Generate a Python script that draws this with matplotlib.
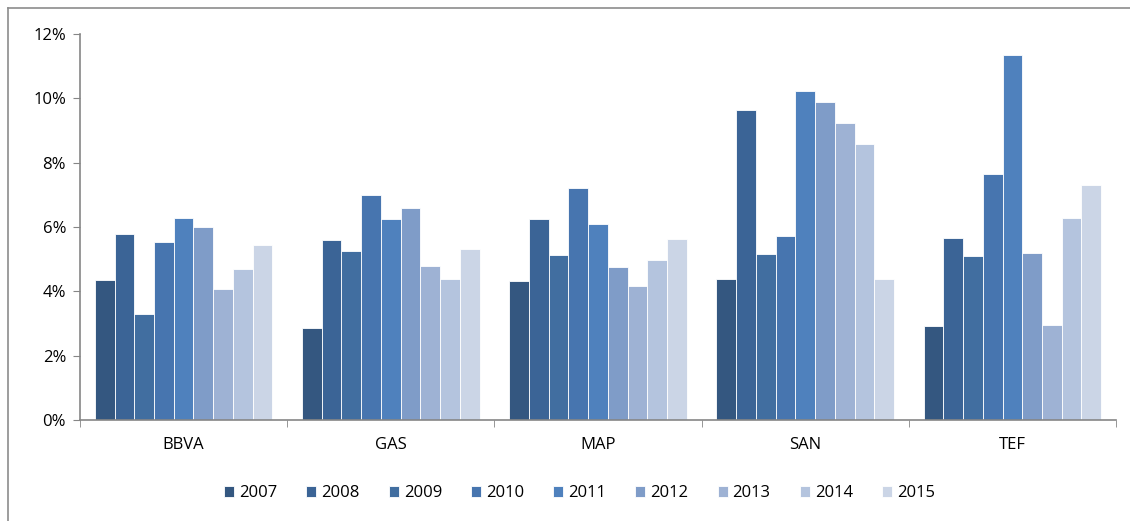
import numpy as np
import matplotlib.pyplot as plt
from matplotlib.lines import Line2D
from matplotlib.ticker import FuncFormatter

# Categories and yearly series (values in %)
companies = ["BBVA", "GAS", "MAP", "SAN", "TEF"]
years = ["2007", "2008", "2009", "2010", "2011", "2012", "2013", "2014", "2015"]

v2007 = [4.35, 2.85, 4.32, 4.38, 2.91]
v2008 = [5.77, 5.60, 6.25, 9.63, 5.66]
v2009 = [3.29, 5.25, 5.12, 5.17, 5.11]
v2010 = [5.52, 7.00, 7.22, 5.71, 7.65]
v2011 = [6.27, 6.25, 6.10, 10.22, 11.35]
v2012 = [6.00, 6.58, 4.75, 9.88, 5.19]
v2013 = [4.08, 4.80, 4.18, 9.22, 2.94]
v2014 = [4.69, 4.37, 4.97, 8.57, 6.27]
v2015 = [5.45, 5.32, 5.63, 4.37, 7.30]
series = [v2007, v2008, v2009, v2010, v2011, v2012, v2013, v2014, v2015]

colors = ["#345780", "#3B6496", "#416EA0", "#4775AF", "#4F81BD",
          "#7F9CC8", "#9EB2D4", "#B4C4DE", "#CBD5E6"]

plt.rcParams["font.family"] = ["Open Sans", "DejaVu Sans"]

fig = plt.figure(figsize=(11.3, 5.21), dpi=100)
ax = fig.add_axes([0.0708, 0.1939, 0.9168, 0.7408])

n = len(years)
bar_w = 1.0 / (n + 1.5)
x = np.arange(len(companies))
for i, (yr, vals) in enumerate(zip(years, series)):
    offs = (i - (n - 1) / 2) * bar_w
    ax.bar(x + offs, vals, width=bar_w, color=colors[i], edgecolor="white",
           linewidth=0.6, label=yr)

ax.set_xlim(-0.5, len(companies) - 0.5)
ax.set_ylim(0, 12)
ax.set_yticks(range(0, 13, 2))
ax.yaxis.set_major_formatter(FuncFormatter(lambda v, p: f"{v:.0f}%"))
ax.set_xticks(x)
ax.set_xticklabels(companies)
ax.set_xticks(np.arange(-0.5, len(companies)), minor=True)
ax.tick_params(axis="x", which="major", length=0, pad=12, labelsize=12)
ax.tick_params(axis="x", which="minor", length=5, color="#868686", direction="out")
ax.tick_params(axis="y", length=5, color="#868686", labelsize=12, pad=5)

for s in ["top", "right"]:
    ax.spines[s].set_visible(False)
for s in ["left", "bottom"]:
    ax.spines[s].set_color("#868686")
    ax.spines[s].set_linewidth(1.2)

ax.legend(loc="center", bbox_to_anchor=(0.482, -0.19), ncol=9, frameon=False,
          fontsize=12, handlelength=0.6, handleheight=0.6, handletextpad=0.3,
          columnspacing=1.75)

# outer chart frame
fig.add_artist(Line2D([8 / 1130, 8 / 1130], [0, 1 - 8 / 521], transform=fig.transFigure,
                      color="#8c8c8c", linewidth=1.2))
fig.add_artist(Line2D([8 / 1130, 1], [1 - 8 / 521, 1 - 8 / 521], transform=fig.transFigure,
                      color="#8c8c8c", linewidth=1.2))

fig.savefig("out.png", dpi=100)
